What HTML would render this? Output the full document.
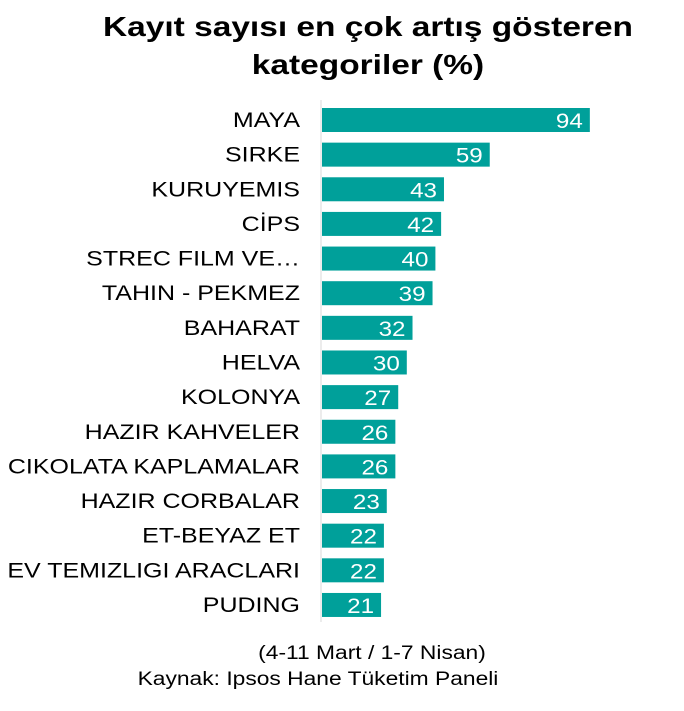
<!DOCTYPE html>
<html><head><meta charset="utf-8"><style>
body{margin:0;background:#fff;width:684px;height:706px;overflow:hidden;font-family:"Liberation Sans",sans-serif}
</style></head><body>
<svg id="chart" width="684" height="706" xmlns="http://www.w3.org/2000/svg" font-family="Liberation Sans, sans-serif">
<text class="st" data-f="1.195" x="368" y="36" text-anchor="middle" font-size="28" font-weight="bold" fill="#000">Kayıt sayısı en çok artış gösteren</text>
<text class="st" data-f="1.195" x="368" y="74" text-anchor="middle" font-size="28" font-weight="bold" fill="#000">kategoriler (%)</text>
<line x1="321" y1="100" x2="321" y2="622" stroke="#d9d9d9" stroke-width="1"/>
<g id="bars"></g>
<text class="st" data-f="1.2" x="372" y="659" text-anchor="middle" font-size="19" fill="#000">(4-11 Mart / 1-7 Nisan)</text>
<text class="st" data-f="1.2" x="318" y="685" text-anchor="middle" font-size="19" fill="#000">Kaynak: Ipsos Hane Tüketim Paneli</text>
</svg>
<script>
const categories=["MAYA","SIRKE","KURUYEMIS","CİPS","STREC FILM VE…","TAHIN - PEKMEZ","BAHARAT","HELVA","KOLONYA","HAZIR KAHVELER","CIKOLATA KAPLAMALAR","HAZIR CORBALAR","ET-BEYAZ ET","EV TEMIZLIGI ARACLARI","PUDING"];
const values=[94,59,43,42,40,39,32,30,27,26,26,23,22,22,21];
const x0=321, scale=2.86, yTop=120, step=34.64, barH=24;
const xs=v=>x0+v*scale;
const ys=i=>yTop+i*step;
const g=document.getElementById('bars');
const ns='http://www.w3.org/2000/svg';
categories.forEach((c,i)=>{
  const r=document.createElementNS(ns,'rect');
  
  
  r.setAttribute('x',x0+1);r.setAttribute('y',ys(i)-barH/2);
  r.setAttribute('width',xs(values[i])-x0-1);r.setAttribute('height',barH);
  r.setAttribute('fill','#00a09a');g.appendChild(r);
  const l=document.createElementNS(ns,'text');
  
  
  l.setAttribute('class','st');l.setAttribute('data-f','1.19');
  l.setAttribute('x',300);l.setAttribute('y',ys(i)+7);
  l.setAttribute('text-anchor','end');l.setAttribute('font-size','21');
  l.textContent=c;g.appendChild(l);
  const v=document.createElementNS(ns,'text');
  
  
  v.setAttribute('class','st');v.setAttribute('data-f','1.15');
  v.setAttribute('x',xs(values[i])-7);v.setAttribute('y',ys(i)+8);
  v.setAttribute('text-anchor','end');v.setAttribute('font-size','21');
  v.setAttribute('fill','#fff');
  v.textContent=values[i];g.appendChild(v);
});
document.querySelectorAll('.st').forEach(t=>{
  const w=t.getComputedTextLength();
  t.setAttribute('textLength',(w*parseFloat(t.getAttribute('data-f'))).toFixed(1));
  t.setAttribute('lengthAdjust','spacingAndGlyphs');
});
</script>
</body></html>
